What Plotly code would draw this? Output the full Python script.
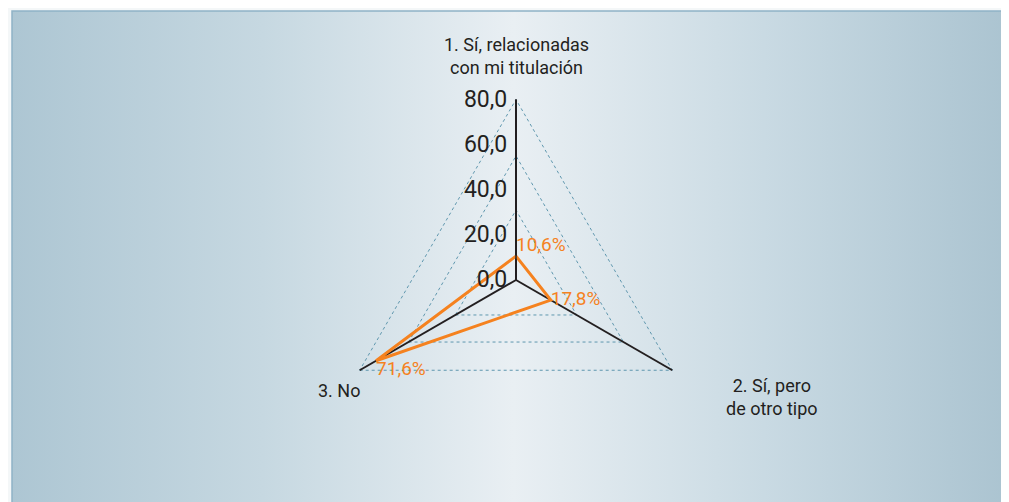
import base64
import plotly.graph_objects as go

# data
categories = ["1. Sí, relacionadas con mi titulación", "2. Sí, pero de otro tipo", "3. No"]
category_labels = ["1. Sí, relacionadas<br>con mi titulación", "2. Sí, pero<br>de otro tipo", "3. No"]
values = [10.6, 17.8, 71.6]
value_labels = ["10,6%", "17,8%", "71,6%"]
radial_ticks = [0, 20, 40, 60, 80]
grid_levels = [31, 55, 80]

ORANGE = "#f5821f"
GRID = "#5f97ae"
INK = "#231f20"
FONT = "Roboto"

W, H = 1009, 502
RMAX = 80
GRID_MAX = 84

# background gradient as an svg image
svg = """<svg xmlns='http://www.w3.org/2000/svg' width='1009' height='502'>
<defs><linearGradient id='g' x1='0' y1='0' x2='1' y2='0'>
<stop offset='0' stop-color='#adc6d3'/>
<stop offset='0.25' stop-color='#c6d8e1'/>
<stop offset='0.5' stop-color='#e9eff3'/>
<stop offset='0.75' stop-color='#c9dae3'/>
<stop offset='1' stop-color='#aac3d0'/>
</linearGradient></defs>
<rect x='0' y='0' width='1009' height='502' fill='#f4f7f8'/>
<rect x='4' y='3' width='1003' height='497' fill='url(#g)' stroke='#8fb3c6' stroke-width='1.5'/>
</svg>"""
bg_src = "data:image/svg+xml;base64," + base64.b64encode(svg.encode()).decode()


def domain(cx, cy, r):
    return dict(x=[(cx - r) / W, (cx + r) / W], y=[1 - (cy + r) / H, 1 - (cy - r) / H])


# centre and radius of the radar, in pixels
cx, cy, rad = 508, 272, 180.5

fig = go.Figure()

# grid-only polar underneath
fig.add_trace(go.Scatterpolar(r=[0], theta=[categories[0]], mode="markers",
                              marker=dict(opacity=0), hoverinfo="skip",
                              showlegend=False, subplot="polar"))

fig.add_trace(go.Scatterpolar(
    r=values + values[:1], theta=categories + categories[:1], mode="lines+text",
    line=dict(color=ORANGE, width=3),
    text=value_labels + [""],
    textposition=["top right", "middle right", "bottom right", "top right"],
    textfont=dict(color=ORANGE, size=19, family=FONT),
    showlegend=False, subplot="polar2", cliponaxis=False, hoverinfo="skip",
))

angular = dict(categoryarray=categories, categoryorder="array",
               rotation=90, direction="clockwise", showline=False,
               showticklabels=False, ticks="")

fig.update_layout(
    width=W, height=H,
    margin=dict(l=0, r=0, t=0, b=0),
    paper_bgcolor="rgba(0,0,0,0)",
    separators=",.",
    font=dict(family=FONT, color=INK),
    images=[dict(source=bg_src, xref="paper", yref="paper", x=0, y=1,
                 sizex=1, sizey=1, sizing="stretch", layer="below")],
    polar=dict(
        domain=domain(cx, cy, rad * GRID_MAX / RMAX), gridshape="linear",
        bgcolor="rgba(0,0,0,0)",
        radialaxis=dict(range=[0, GRID_MAX], tickvals=grid_levels, showticklabels=False,
                        showline=False, ticks="", showgrid=True,
                        gridcolor=GRID, griddash="dot", gridwidth=1),
        angularaxis=dict(angular, showgrid=False),
    ),
    polar2=dict(
        domain=domain(cx, cy, rad), gridshape="linear", bgcolor="rgba(0,0,0,0)",
        radialaxis=dict(range=[0, RMAX], tickvals=radial_ticks, tickformat=".1f",
                        angle=90, tickangle=90, side="counterclockwise",
                        showline=True, linecolor=INK, linewidth=1.5,
                        showgrid=False, ticks="",
                        tickfont=dict(size=23, color=INK, family=FONT)),
        angularaxis=dict(angular, showgrid=True, gridcolor=INK, gridwidth=1.5),
    ),
)

# category labels
label_pos = [(0.504, 0.905), (0.757, 0.225), (0.328, 0.238)]
for txt, (x, y) in zip(category_labels, label_pos):
    fig.add_annotation(text=txt, x=x, y=y, xref="paper", yref="paper",
                       xanchor="center", yanchor="middle",
                       showarrow=False, align="center",
                       font=dict(size=18, color=INK, family=FONT))

fig.write_html("out.html")
